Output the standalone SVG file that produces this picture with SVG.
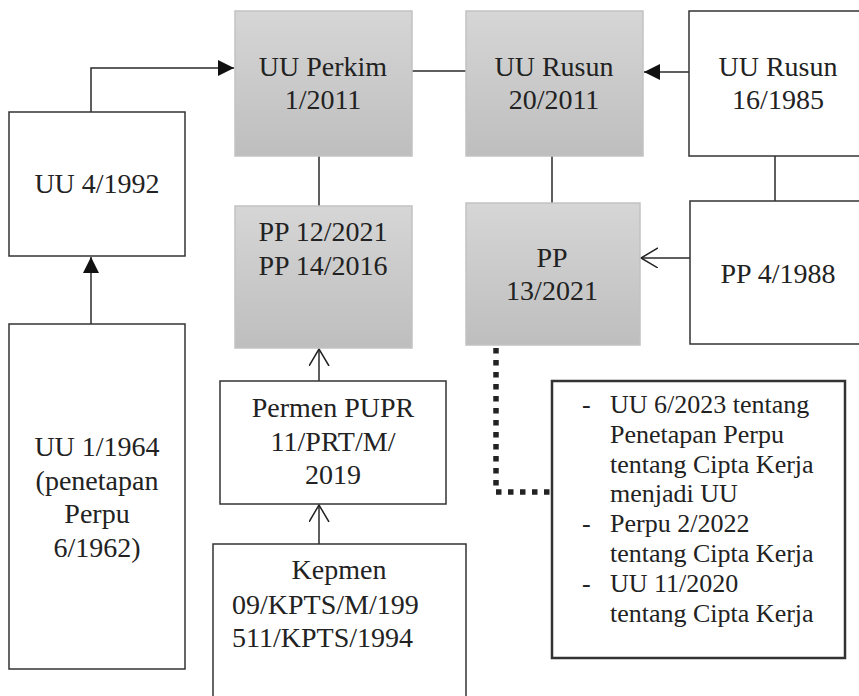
<svg xmlns="http://www.w3.org/2000/svg" width="859" height="696" viewBox="0 0 859 696">
<style>
  text { font-family: 'Liberation Serif', 'DejaVu Serif', serif; fill: #222; }
  .t { font-size: 28px; text-anchor: middle; }
  .ts { font-size: 28px; text-anchor: start; }
  .n { font-size: 26px; }
  .white { fill: #fff; stroke: #333; stroke-width: 1.5; }
  .gray { fill: url(#g); stroke: #c2c2c2; stroke-width: 1.5; }
  .note { fill: #fff; stroke: #333; stroke-width: 2.5; }
  .c { fill: none; stroke: #2a2a2a; stroke-width: 1.5; }
  .dot { fill: none; stroke: #222; stroke-width: 5.5; stroke-dasharray: 5.5 6.5; }
</style>
<defs>
  <linearGradient id="g" x1="0" y1="0" x2="0" y2="1">
    <stop offset="0" stop-color="#d6d6d6"/>
    <stop offset="1" stop-color="#bebebe"/>
  </linearGradient>
  <marker id="fa" markerUnits="userSpaceOnUse" markerWidth="17" markerHeight="17" refX="16" refY="8" orient="auto" viewBox="0 0 17 17">
    <path d="M0,0 L16,8 L0,16 z" fill="#111"/>
  </marker>
  <marker id="oa" markerUnits="userSpaceOnUse" markerWidth="20" markerHeight="22" refX="17" refY="10" orient="auto" viewBox="0 0 20 22">
    <path d="M0,0 L17,10 L0,20" fill="none" stroke="#222" stroke-width="1.5"/>
  </marker>
</defs>

<g id="connectors">
  <path class="c" d="M91 112 V68 H234" marker-end="url(#fa)"/>
  <path class="c" d="M91 324 V257" marker-end="url(#fa)"/>
  <path class="c" d="M412 71 H466"/>
  <path class="c" d="M689 72 H644" marker-end="url(#fa)"/>
  <path class="c" d="M319 156 V206"/>
  <path class="c" d="M552 156 V203"/>
  <path class="c" d="M775 156 V201"/>
  <path class="c" d="M690 258 H641" marker-end="url(#oa)"/>
  <path class="c" d="M319 381 V349" marker-end="url(#oa)"/>
  <path class="c" d="M319 544 V505" marker-end="url(#oa)"/>
  <path class="dot" d="M496 348 V492 H552"/>
</g>

<g id="uu-perkim">
  <rect class="gray" x="235" y="11" width="177" height="145"/>
  <text class="t" x="323" y="76">UU Perkim</text>
  <text class="t" x="323" y="109">1/2011</text>
</g>
<g id="uu-rusun-2011">
  <rect class="gray" x="466" y="11" width="177" height="145"/>
  <text class="t" x="554" y="76">UU Rusun</text>
  <text class="t" x="554" y="109">20/2011</text>
</g>
<g id="uu-rusun-1985">
  <rect class="white" x="689" y="11" width="190" height="145"/>
  <text class="t" x="778" y="76">UU Rusun</text>
  <text class="t" x="778" y="109">16/1985</text>
</g>
<g id="uu-4-1992">
  <rect class="white" x="9" y="112" width="176" height="144"/>
  <text class="t" x="97" y="193">UU 4/1992</text>
</g>
<g id="pp-12-2021">
  <rect class="gray" x="235" y="206" width="177" height="142"/>
  <text class="t" x="323" y="241">PP 12/2021</text>
  <text class="t" x="323" y="275">PP 14/2016</text>
</g>
<g id="pp-13-2021">
  <rect class="gray" x="466" y="203" width="174" height="142"/>
  <text class="t" x="552" y="267">PP</text>
  <text class="t" x="552" y="300">13/2021</text>
</g>
<g id="pp-4-1988">
  <rect class="white" x="690" y="201" width="190" height="143"/>
  <text class="t" x="778" y="283">PP 4/1988</text>
</g>
<g id="uu-1-1964">
  <rect class="white" x="9" y="324" width="176" height="345"/>
  <text class="t" x="97" y="456">UU 1/1964</text>
  <text class="t" x="97" y="490">(penetapan</text>
  <text class="t" x="97" y="523">Perpu</text>
  <text class="t" x="97" y="557">6/1962)</text>
</g>
<g id="permen-pupr">
  <rect class="white" x="220" y="381" width="226" height="123"/>
  <text class="t" x="333" y="417">Permen PUPR</text>
  <text class="t" x="333" y="451">11/PRT/M/</text>
  <text class="t" x="333" y="484">2019</text>
</g>
<g id="kepmen">
  <rect class="white" x="213" y="544" width="253" height="170"/>
  <text class="t" x="339" y="579">Kepmen</text>
  <text class="ts" x="232" y="614">09/KPTS/M/199</text>
  <text class="ts" x="232" y="647">511/KPTS/1994</text>
</g>
<g id="cipta-kerja">
  <rect class="note" x="552" y="381" width="293" height="277"/>
  <text class="n" x="582" y="413">-</text>
  <text class="n" x="610" y="413">UU 6/2023 tentang</text>
  <text class="n" x="610" y="443">Penetapan Perpu</text>
  <text class="n" x="610" y="473">tentang Cipta Kerja</text>
  <text class="n" x="610" y="502">menjadi UU</text>
  <text class="n" x="582" y="532">-</text>
  <text class="n" x="610" y="532">Perpu 2/2022</text>
  <text class="n" x="610" y="562">tentang Cipta Kerja</text>
  <text class="n" x="582" y="592">-</text>
  <text class="n" x="610" y="592">UU 11/2020</text>
  <text class="n" x="610" y="622">tentang Cipta Kerja</text>
</g>
</svg>
